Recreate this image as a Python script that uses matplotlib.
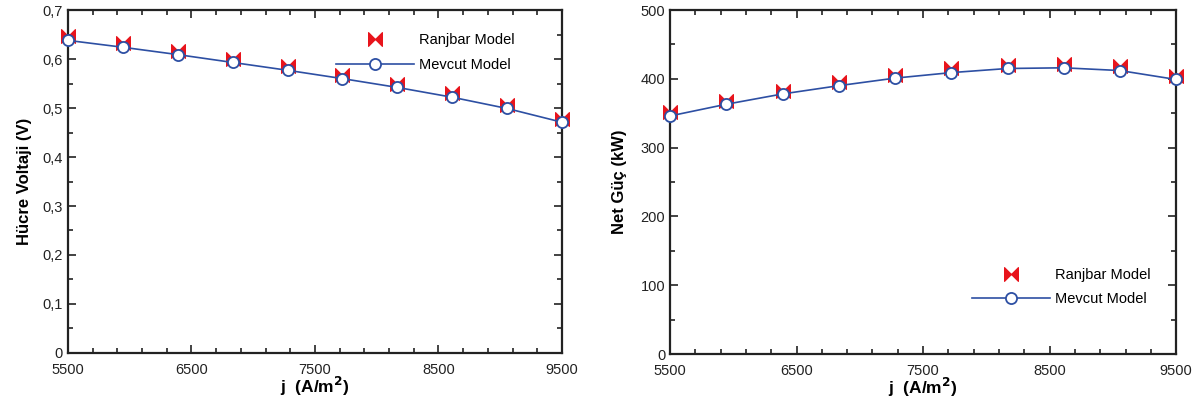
import numpy as np
import matplotlib
matplotlib.use("Agg")
import matplotlib.pyplot as plt
from matplotlib.path import Path
from matplotlib.ticker import MultipleLocator, FuncFormatter

plt.rcParams['font.family'] = ['Liberation Sans', 'DejaVu Sans']

# akim yogunlugu (A/m2)
j = [5500, 5944, 6389, 6833, 7278, 7722, 8167, 8611, 9056, 9500]

# hucre voltaji (V)
v_ranjbar = [0.646, 0.632, 0.617, 0.601, 0.585, 0.568, 0.550, 0.530, 0.507, 0.478]
v_mevcut = [0.638, 0.624, 0.609, 0.593, 0.577, 0.560, 0.542, 0.522, 0.499, 0.471]

# net guc (kW)
p_ranjbar = [352, 368, 383, 396, 406, 415, 420, 421, 418, 404]
p_mevcut = [346, 363, 378, 390, 401, 409, 415, 416, 412, 399]

# kelebek (bowtie) isaretci
bowtie = Path([(-1, -1), (0, 0), (-1, 1), (-1, -1), (1, -1), (0, 0), (1, 1), (1, -1)],
              [Path.MOVETO, Path.LINETO, Path.LINETO, Path.CLOSEPOLY,
               Path.MOVETO, Path.LINETO, Path.LINETO, Path.CLOSEPOLY])

blue = '#2d4fa3'
red = '#e8141c'


def comma(x, pos):
    if abs(x) < 1e-9:
        return '0'
    return ('%.1f' % x).replace('.', ',')


def setup(ax):
    ax.set_xlim(5500, 9500)
    ax.xaxis.set_major_locator(MultipleLocator(1000, offset=500))
    ax.xaxis.set_minor_locator(MultipleLocator(200, offset=100))
    ax.tick_params(which='both', direction='in', top=True, right=True,
                   labelsize=10.5, width=1.2, colors='#222222')
    ax.tick_params(which='major', length=6)
    ax.tick_params(which='minor', length=3.5)
    ax.tick_params(axis='x', which='major', pad=7)
    for s in ax.spines.values():
        s.set_linewidth(1.6)
        s.set_color('#222222')
    ax.set_xlabel(r'j  (A/m$^\mathbf{2}$)', fontsize=12.5, fontweight='bold',
                  labelpad=-1)


def draw(ax, r, m):
    ax.plot(j, r, linestyle='none', marker=bowtie, markersize=10, color=red,
            markeredgewidth=0.8, markeredgecolor=red, label='Ranjbar Model',
            clip_on=False, zorder=3)
    ax.plot(j, m, color=blue, linewidth=1.2, marker='o', markersize=8,
            markerfacecolor='white', markeredgecolor=blue, markeredgewidth=1.3,
            label='Mevcut Model', clip_on=False, zorder=4)


fig = plt.figure(figsize=(11.99, 4.07), dpi=100)
ax1 = fig.add_axes([0.0567, 0.1327, 0.412, 0.8427])
ax2 = fig.add_axes([0.5588, 0.1302, 0.4222, 0.8452])

draw(ax1, v_ranjbar, v_mevcut)
setup(ax1)
ax1.set_ylim(0, 0.7)
ax1.yaxis.set_major_locator(MultipleLocator(0.1))
ax1.yaxis.set_minor_locator(MultipleLocator(0.05))
ax1.yaxis.set_major_formatter(FuncFormatter(comma))
ax1.set_ylabel('Hücre Voltaji (V)', fontsize=12, fontweight='bold', labelpad=8)
ax1.legend(loc='upper right', bbox_to_anchor=(0.93, 0.97), frameon=False,
           fontsize=10.5, handlelength=5.4, handletextpad=0.3, labelspacing=0.7)

draw(ax2, p_ranjbar, p_mevcut)
setup(ax2)
ax2.set_ylim(0, 500)
ax2.yaxis.set_major_locator(MultipleLocator(100))
ax2.yaxis.set_minor_locator(MultipleLocator(50))
ax2.set_ylabel('Net Güç (kW)', fontsize=12, fontweight='bold', labelpad=10)
ax2.legend(loc='lower right', bbox_to_anchor=(0.975, 0.1), frameon=False,
           fontsize=10.5, handlelength=5.4, handletextpad=0.3, labelspacing=0.7)

fig.savefig('out.png', dpi=100)
